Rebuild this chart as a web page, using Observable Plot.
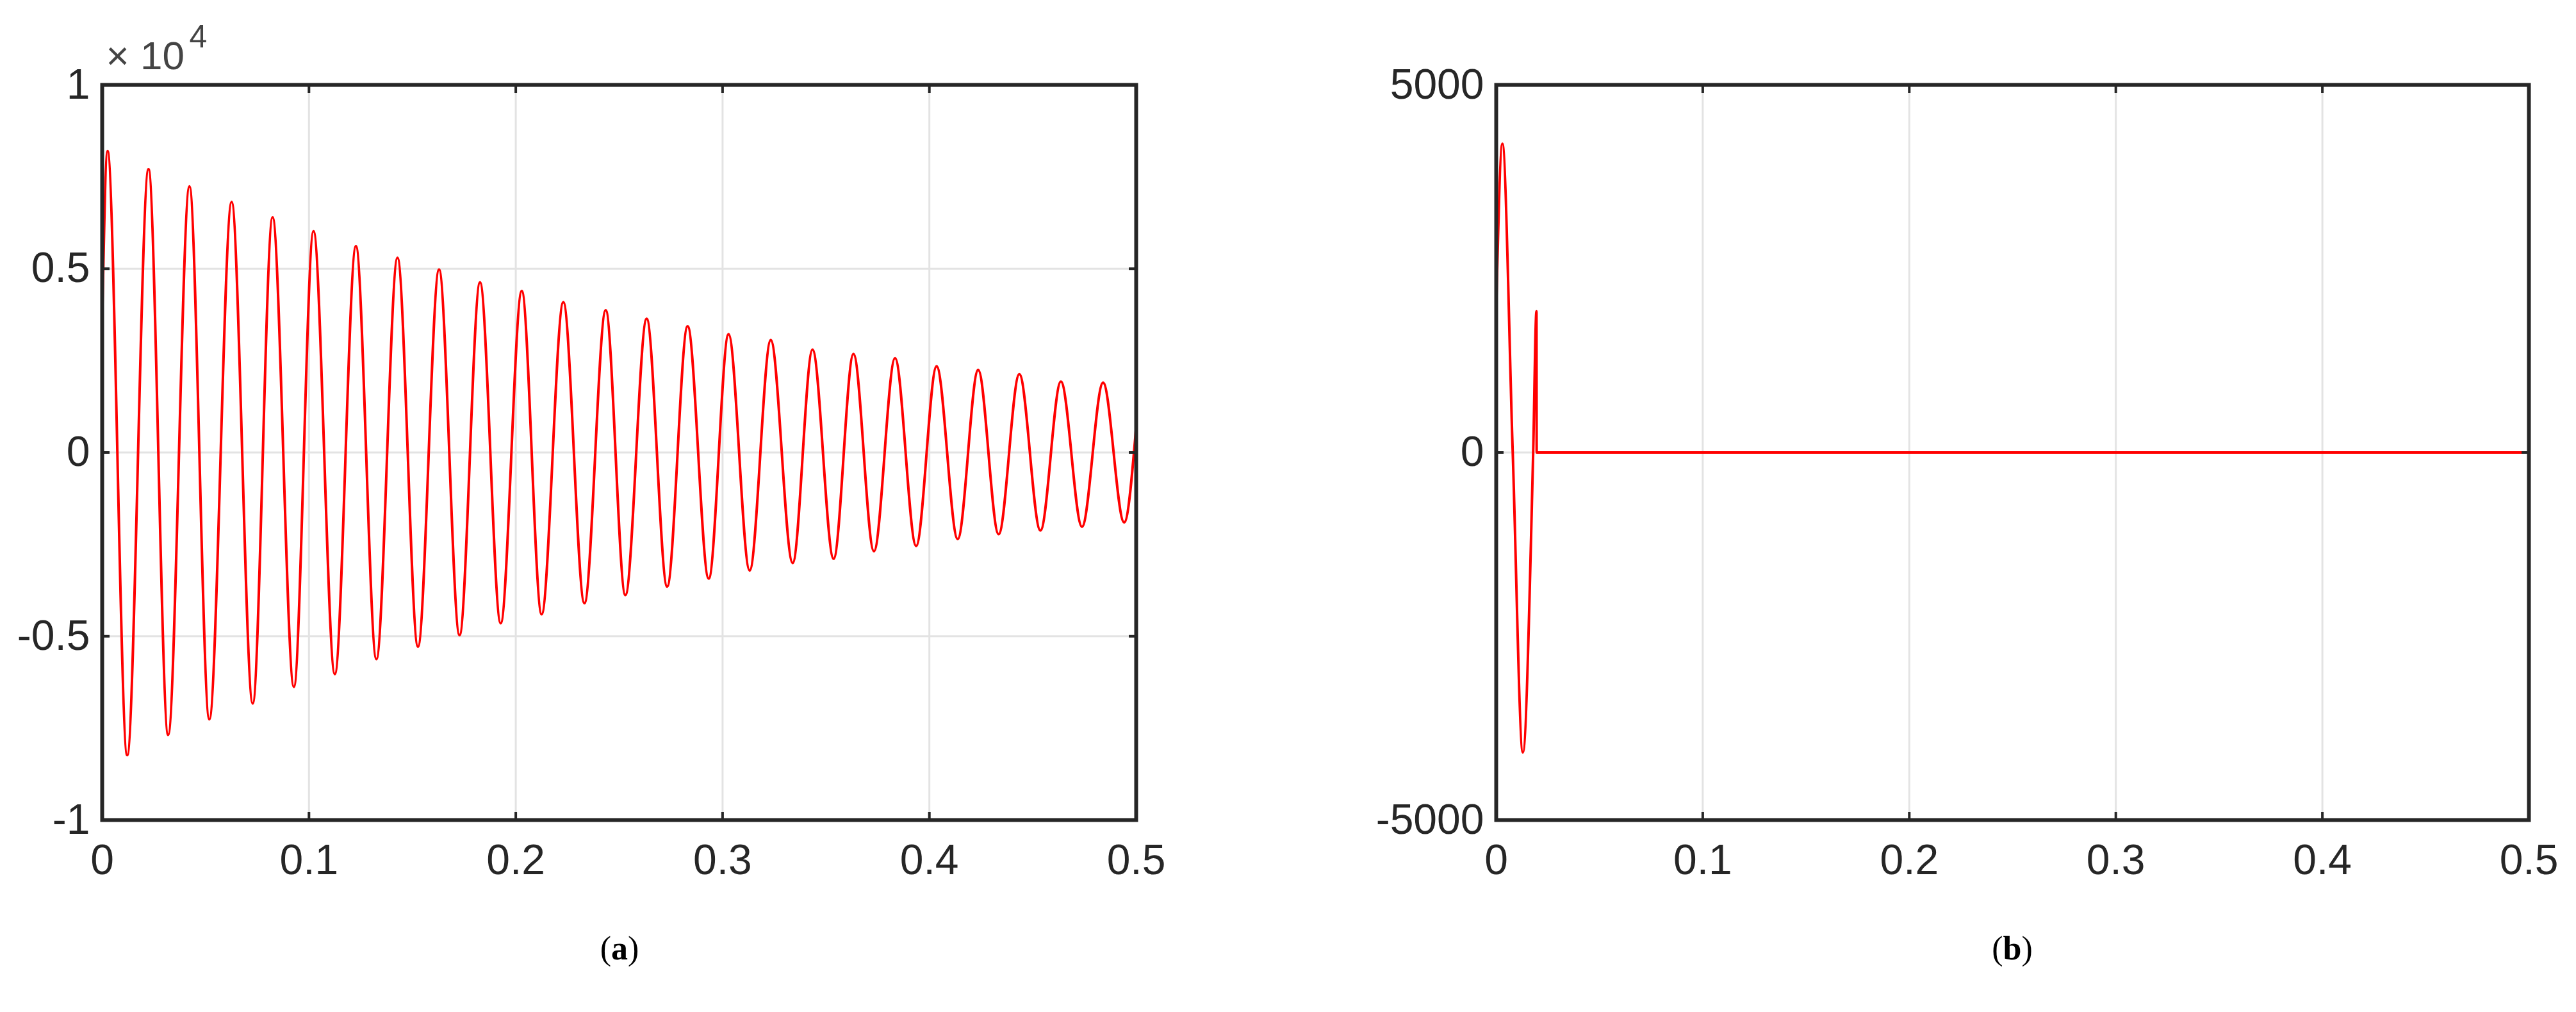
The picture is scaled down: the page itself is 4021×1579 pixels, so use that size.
<!DOCTYPE html>
<html>
<head>
<meta charset="utf-8">
<script src="https://cdn.jsdelivr.net/npm/d3@7"></script>
<script src="https://cdn.jsdelivr.net/npm/@observablehq/plot@0.6"></script>
<style>
  html, body { margin: 0; padding: 0; background: #fff; }
  body { width: 4021px; height: 1579px; position: relative; overflow: hidden; }
  .panel { position: absolute; top: 0; }
  .cap { position: absolute; top: 1450px; width: 300px; text-align: center;
         font-family: "Liberation Serif", "Times New Roman", serif; font-size: 52px; line-height: 60px; color: #000; }
</style>
</head>
<body>
<div id="pa" class="panel" style="left:0px"></div>
<div id="pb" class="panel" style="left:2010px"></div>
<div class="cap" style="left:817px">(<b>a</b>)</div>
<div class="cap" style="left:2991px">(<b>b</b>)</div>
<script>
// ---- Data ----
// Panel (a): damped 50 Hz oscillation — extremes (peaks/troughs)
const aTime = [0, 0.0026, 0.0121, 0.0224, 0.0319, 0.0422, 0.0518, 0.0626, 0.0728, 0.0824, 0.0927,
  0.1022, 0.1125, 0.1227, 0.1326, 0.1428, 0.1527, 0.1629, 0.1728, 0.1827, 0.1927,
  0.2029, 0.2125, 0.2230, 0.2332, 0.2435, 0.2530, 0.2633, 0.2732, 0.2831, 0.2933,
  0.3029, 0.3131, 0.3233, 0.3339, 0.3435, 0.3537, 0.3633, 0.3732, 0.3834, 0.3936,
  0.4035, 0.4137, 0.4236, 0.4335, 0.4435, 0.4537, 0.4636, 0.4738, 0.4840, 0.4942, 0.5];
const aValue = [3600, 8200, -8235, 7706, -7683, 7242, -7259, 6818, -6829, 6400, -6376,
  6022, -6028, 5615, -5622, 5296, -5284, 4977, -4971, 4629, -4646,
  4396, -4402, 4089, -4100, 3873, -3880, 3641, -3647, 3437, -3432,
  3217, -3211, 3061, -3008, 2800, -2892, 2683, -2688, 2566, -2544,
  2347, -2357, 2247, -2224, 2131, -2125, 1929, -2021, 1899, -1904, 700];

// Panel (b): one cycle then cut to zero
const bTime  = [0, 0.0030, 0.0080, 0.0129, 0.0179, 0.0195, 0.0196, 0.5];
const bValue = [1950, 4200, 0, -4080, 0, 1920, 0, 0];

// Axes
const xTicks = [0, 0.1, 0.2, 0.3, 0.4, 0.5];
const xTickLabels = ["0", "0.1", "0.2", "0.3", "0.4", "0.5"];
const aYTicks = [-10000, -5000, 0, 5000, 10000];
const aYTickLabels = ["-1", "-0.5", "0", "0.5", "1"];
const aExponent = ["× 10", "4"];
const bYTicks = [-5000, 0, 5000];
const bYTickLabels = ["-5000", "0", "5000"];

// ---- Styling ----
const RED = "#ff0000";
const AX = "#262626";
const GRID = "#e3e3e3";
const FONT = "'Liberation Sans', Arial, Helvetica, sans-serif";
const FS = 66;

function panel({time, value, yTicks, yLabels, width, marginLeft, marginRight, extra = []}) {
  const data = time.map((t, i) => ({t, v: value[i]}));
  const xFmt = d => xTickLabels[xTicks.indexOf(d)];
  const yFmt = d => yLabels[yTicks.indexOf(d)];
  return Plot.plot({
    width, height: 1420,
    marginLeft, marginRight, marginTop: 132, marginBottom: 141,
    style: {fontFamily: FONT, fontSize: FS + "px", color: AX, background: "white", overflow: "visible"},
    x: {domain: [0, 0.5], label: null},
    y: {domain: [yTicks[0], yTicks[yTicks.length - 1]], label: null},
    marks: [
      Plot.gridX(xTicks, {stroke: GRID, strokeOpacity: 1, strokeWidth: 3}),
      Plot.gridY(yTicks, {stroke: GRID, strokeOpacity: 1, strokeWidth: 3}),
      Plot.line(data, {x: "t", y: "v", stroke: RED, strokeWidth: 4, curve: "monotone-x"}),
      Plot.frame({stroke: AX, strokeWidth: 6}),
      Plot.axisX(xTicks, {anchor: "bottom", tickSize: -12, tickPadding: 50, tickFormat: xFmt, fontSize: FS, label: null, stroke: AX, strokeWidth: 4}),
      Plot.axisX(xTicks, {anchor: "top", tickSize: -12, tickFormat: () => "", label: null, stroke: AX, strokeWidth: 4}),
      Plot.axisY(yTicks, {anchor: "left", tickSize: -12, tickPadding: 31, tickFormat: yFmt, fontSize: FS, label: null, stroke: AX, strokeWidth: 4}),
      Plot.axisY(yTicks, {anchor: "right", tickSize: -12, tickFormat: () => "", label: null, stroke: AX, strokeWidth: 4}),
      ...extra
    ]
  });
}

const expMarks = [
  Plot.text([aExponent[0]], {frameAnchor: "top-left", text: d => d, textAnchor: "start", lineAnchor: "bottom", dx: 6, dy: -25, fontSize: 62, fill: "#444"}),
  Plot.text([aExponent[1]], {frameAnchor: "top-left", text: d => d, textAnchor: "start", lineAnchor: "bottom", dx: 136, dy: -59, fontSize: 50, fill: "#444"})
];

document.getElementById("pa").append(panel({
  time: aTime, value: aValue, yTicks: aYTicks, yLabels: aYTickLabels,
  width: 1900, marginLeft: 159, marginRight: 127, extra: expMarks
}));
document.getElementById("pb").append(panel({
  time: bTime, value: bValue, yTicks: bYTicks, yLabels: bYTickLabels,
  width: 2011, marginLeft: 325, marginRight: 74
}));
</script>
</body>
</html>
